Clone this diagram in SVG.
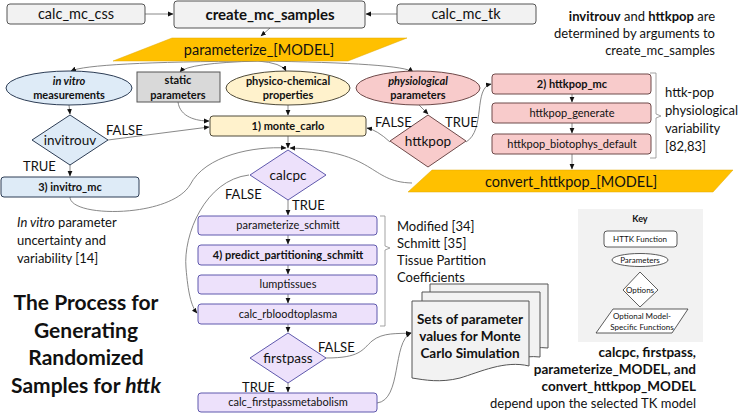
<svg xmlns="http://www.w3.org/2000/svg" width="738" height="414" viewBox="0 0 738 414">
<defs>
<marker id="ah" markerWidth="6" markerHeight="6" refX="5" refY="3" orient="auto" markerUnits="userSpaceOnUse">
<path d="M0,0.6 L5.5,3 L0,5.4 Z" fill="#111"/>
</marker>
<style>
text{font-family:Lato,"Liberation Sans",sans-serif;fill:#111}
.c{stroke:#7a7a7a;stroke-width:0.9;fill:none;marker-end:url(#ah)}
.gray{fill:#f2f2f2;stroke:#555;stroke-width:1}
.orange{fill:#ffc000;stroke:#e0a800;stroke-width:0.5}
.blue{fill:#deebf7;stroke:#2d3d55;stroke-width:1}
.yellow{fill:#fff2cc;stroke:#4f4a3a;stroke-width:1}
.pink{fill:#f8cbcb;stroke:#6e4a4a;stroke-width:1}
.lav{fill:#ede1fb;stroke:#5f59ad;stroke-width:1}
.bk{fill:none;stroke:#999;stroke-width:0.9}
.m{text-anchor:middle}
.b{font-weight:bold}
.i{font-style:italic}
</style>
</defs>

<g id="connectors">
<path class="c" d="M145,14 L173,14"/>
<path class="c" d="M397,14 L366,14"/>
<path class="c" d="M270,28 L261,36"/>
<path class="c" d="M258,61 Q90,62 71,71"/>
<path class="c" d="M258,61 Q188,63 180,72"/>
<path class="c" d="M258,61 Q282,63 286,71"/>
<path class="c" d="M258,61 Q402,63 413,72"/>
<path class="c" d="M178,102 C180,117 196,121 209,121"/>
<path class="c" d="M288,105 L288,115"/>
<path class="c" d="M108,140 L209,127"/>
<path class="c" d="M69,105 L70,114"/>
<path class="c" d="M70,165 L70,176"/>
<path class="c" d="M418,104 L428,114"/>
<path class="c" d="M390,142 Q377,130 367,128"/>
<path class="c" d="M466,142 C486,130 473,88 491,84"/>
<path class="c" d="M572,94 L572,102"/>
<path class="c" d="M572,123 L572,133"/>
<path class="c" d="M572,154 L572,169"/>
<path class="c" d="M412,183 C368,182 378,151 290,148"/>
<path class="c" d="M70,197 C70,218 170,218 190,185 C205,155 255,146 286,148"/>
<path class="c" d="M288,136 L288,148"/>
<path class="c" d="M249,175 C205,180 183,235 186,268 C188,292 191,306 197,313"/>
<path class="c" d="M288,200 L288,215"/>
<path class="c" d="M288,235 L288,244"/>
<path class="c" d="M288,265 L288,274"/>
<path class="c" d="M288,294 L288,303"/>
<path class="c" d="M288,324 L288,332"/>
<path class="c" d="M288,383 L288,392"/>
<path class="c" d="M326,358 C360,358 362,350 372,341 C383,332 398,334 411,333"/>
<path class="c" d="M377,403 C402,400 392,342 411,333"/>
</g>

<g id="calc_mc_css"><rect class="gray" x="7" y="4" width="138" height="20" rx="3"/><text class="m" x="76" y="19" font-size="14.5">calc_mc_css</text></g>
<g id="create_mc_samples"><rect class="gray" x="174" y="1" width="191" height="27" rx="3"/><text class="m b" x="270" y="20" font-size="15">create_mc_samples</text></g>
<g id="calc_mc_tk"><rect class="gray" x="397" y="4" width="139" height="20" rx="3"/><text class="m" x="466" y="19" font-size="14.5">calc_mc_tk</text></g>
<g id="note_top"><text x="715" y="21" font-size="13" text-anchor="end"><tspan class="b">invitrouv</tspan> and <tspan class="b">httkpop</tspan> are</text><text x="715" y="38" font-size="13" text-anchor="end">determined by arguments to</text><text x="715" y="55" font-size="13" text-anchor="end">create_mc_samples</text></g>

<g id="parameterize_model"><polygon class="orange" points="172,38 407,38 348,61 113,61"/><text class="m" x="259" y="55" font-size="14.5">parameterize_[MODEL]</text></g>

<g id="in_vitro_measurements"><ellipse class="blue" cx="69" cy="88" rx="63" ry="17"/><text class="m b i" x="69" y="85" font-size="11">in vitro</text><text class="m b" x="69" y="99" font-size="11">measurements</text></g>
<g id="static_parameters"><rect x="137" y="72" width="83" height="30" fill="#d9d9d9" stroke="#555"/><text class="m b" x="178" y="84" font-size="11">static</text><text class="m b" x="178" y="99" font-size="11">parameters</text></g>
<g id="physico_chemical"><ellipse class="yellow" cx="288" cy="88" rx="62" ry="17"/><text class="m b" x="288" y="85" font-size="11">physico-chemical</text><text class="m b" x="288" y="99" font-size="11">properties</text></g>
<g id="physiological_parameters"><ellipse class="pink" cx="418" cy="88" rx="62" ry="17"/><text class="m b i" x="418" y="85" font-size="11">physiological</text><text class="m b" x="418" y="99" font-size="11">parameters</text></g>

<g id="httkpop_mc"><rect class="pink" x="492" y="74" width="159" height="20" rx="3"/><text class="m b" x="572" y="88" font-size="11">2) httkpop_mc</text></g>
<g id="httkpop_generate"><rect class="pink" x="492" y="103" width="159" height="20" rx="3"/><text class="m" x="572" y="117" font-size="11">httkpop_generate</text></g>
<g id="httkpop_biotophys_default"><rect class="pink" x="492" y="134" width="159" height="20" rx="3"/><text class="m" x="572" y="148" font-size="11">httkpop_biotophys_default</text></g>
<g id="httkpop_note"><path class="bk" d="M650,73 L656,73 L656,114 L661,116 L656,118 L656,158 L650,158"/><text x="665" y="97" font-size="13">httk-pop</text><text x="665" y="115" font-size="13">physiological</text><text x="665" y="133" font-size="13">variability</text><text x="665" y="151" font-size="13">[82,83]</text></g>

<g id="monte_carlo"><rect class="yellow" x="210" y="116" width="156" height="20" rx="3"/><text class="m b" x="288" y="130" font-size="11">1) monte_carlo</text></g>

<g id="httkpop"><polygon class="pink" points="428,115 466,141 428,167 390,141"/><text class="m" x="428" y="146" font-size="13.5">httkpop</text><text x="375" y="127" font-size="13">FALSE</text><text x="445" y="127" font-size="13">TRUE</text></g>

<g id="invitrouv"><polygon class="blue" points="70,115 108,140 70,165 32,140"/><text class="m" x="70" y="145" font-size="13.5">invitrouv</text><text x="106" y="135" font-size="13">FALSE</text><text x="23" y="171" font-size="13">TRUE</text></g>

<g id="invitro_mc"><rect class="blue" x="1" y="177" width="138" height="20" rx="3"/><text class="m b" x="70" y="191" font-size="11">3) invitro_mc</text></g>
<g id="invitro_note"><text x="17" y="227" font-size="13"><tspan class="i">In vitro</tspan> parameter</text><text x="17" y="245" font-size="13">uncertainty and</text><text x="17" y="263" font-size="13">variability [14]</text></g>

<g id="convert_httkpop_model"><polygon class="orange" points="432,170 733,170 713,192 408,192"/><text class="m" x="571" y="187" font-size="14.5">convert_httkpop_[MODEL]</text></g>

<g id="calcpc"><polygon class="lav" points="288,150 326,175 288,200 250,175"/><text class="m" x="288" y="180" font-size="13.5">calcpc</text><text x="225" y="199" font-size="13">FALSE</text><text x="292" y="210" font-size="13">TRUE</text></g>

<g id="parameterize_schmitt"><rect class="lav" x="198" y="216" width="179" height="19" rx="3"/><text class="m" x="288" y="229" font-size="11">parameterize_schmitt</text></g>
<g id="predict_partitioning_schmitt"><rect class="lav" x="198" y="245" width="179" height="20" rx="3"/><text class="m b" x="288" y="259" font-size="11">4) predict_partitioning_schmitt</text></g>
<g id="lumptissues"><rect class="lav" x="198" y="275" width="179" height="19" rx="3"/><text class="m" x="288" y="288" font-size="11">lumptissues</text></g>
<g id="calc_rbloodtoplasma"><rect class="lav" x="198" y="304" width="179" height="20" rx="3"/><text class="m" x="288" y="318" font-size="11">calc_rbloodtoplasma</text></g>
<g id="schmitt_note"><path class="bk" d="M380,216 L385,216 L385,246 L390,248 L385,250 L385,326 L380,326"/><text x="397" y="231" font-size="13">Modified [34]</text><text x="397" y="248" font-size="13">Schmitt [35]</text><text x="397" y="265" font-size="13">Tissue Partition</text><text x="397" y="282" font-size="13">Coefficients</text></g>

<g id="firstpass"><polygon class="lav" points="288,333 326,358 288,383 250,358"/><text class="m" x="288" y="363" font-size="13.5">firstpass</text><text x="318" y="352" font-size="13">FALSE</text><text x="242" y="392" font-size="13">TRUE</text></g>
<g id="calc_firstpassmetabolism"><rect class="lav" x="198" y="393" width="179" height="19" rx="3"/><text class="m" x="288" y="406" font-size="11">calc_firstpassmetabolism</text></g>

<g id="title"><text class="m b" x="86" y="310" font-size="21">The Process for</text><text class="m b" x="86" y="338" font-size="21">Generating</text><text class="m b" x="86" y="365" font-size="21">Randomized</text><text class="m b" x="86" y="393" font-size="21">Samples for <tspan class="i">httk</tspan></text></g>

<g id="sets_of_parameter_values">
<path class="gray" d="M430,284 L548,284 L548,348 C530,346 520,352 510,354 L430,354 Z"/>
<path class="gray" d="M422,292 L540,292 L540,357 C522,355 512,361 502,363 L422,363 Z"/>
<path class="gray" d="M412,301 L529,301 L529,366 C505,360 480,372 460,378 C440,383 425,380 412,378 Z"/>
<text class="m b" x="470" y="324" font-size="13.5">Sets of parameter</text>
<text class="m b" x="470" y="341" font-size="13.5">values for Monte</text>
<text class="m b" x="470" y="358" font-size="13.5">Carlo Simulation</text>
</g>

<g id="key">
<rect x="578" y="209" width="125" height="133" fill="#f2f2f2"/>
<text class="m b" x="640" y="222" font-size="9">Key</text>
<rect x="604" y="231" width="73" height="16" rx="3" fill="#fff" stroke="#333" stroke-width="0.8"/>
<text class="m" x="640" y="242" font-size="8">HTTK Function</text>
<ellipse cx="640" cy="260" rx="28" ry="6.5" fill="#fff" stroke="#333" stroke-width="0.8"/>
<text class="m" x="640" y="263" font-size="8">Parameters</text>
<polygon points="640,272 658,290 640,307 623,290" fill="#fff" stroke="#333" stroke-width="0.8"/>
<text class="m" x="640" y="293" font-size="8">Options</text>
<polygon points="613,309 688,309 672,333 596,333" fill="#fff" stroke="#333" stroke-width="0.8"/>
<text class="m" x="642" y="319" font-size="8">Optional Model-</text>
<text class="m" x="642" y="329.5" font-size="8">Specific Functions</text>
</g>

<g id="note_bottom"><text class="b" x="696" y="357" font-size="13.5" text-anchor="end">calcpc, firstpass,</text><text class="b" x="696" y="374" font-size="13.5" text-anchor="end">parameterize_MODEL, and</text><text class="b" x="696" y="391" font-size="13.5" text-anchor="end">convert_httkpop_MODEL</text><text x="696" y="408" font-size="13" text-anchor="end">depend upon the selected TK model</text></g>
</svg>
